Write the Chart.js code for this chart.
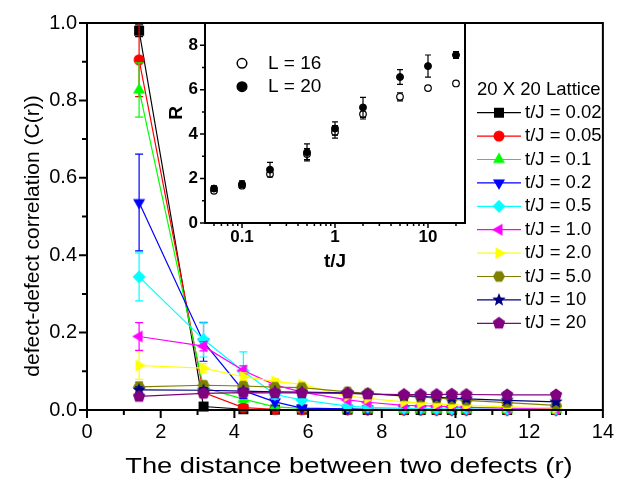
<!DOCTYPE html>
<html lang="en">
<head>
<meta charset="UTF-8">
<title>Defect-defect correlation</title>
<script src="https://cdn.jsdelivr.net/npm/chart.js"></script>
<style>
  body { margin: 0; background: #fff; }
  #wrap { position: relative; width: 624px; height: 481px; }
  #mainChart { position: absolute; left: 0; top: 0; }
  #insetChart { position: absolute; left: 150px; top: 0; }
</style>
</head>
<body>
<div id="wrap">
  <canvas id="mainChart" width="624" height="481"></canvas>
  <canvas id="insetChart" width="330" height="290"></canvas>
</div>
<script>
Chart.defaults.font.family = "'Liberation Sans', Arial, sans-serif";
Chart.defaults.color = '#000';

// lattice distances between two defects
const distance = [1.414, 3.162, 4.243, 5.099, 5.831, 7.071, 7.616, 8.602, 9.055, 9.487, 9.899, 10.296, 11.402, 12.728];

// C(r) for each t/J, with error bars
const corr002 = [0.980, 0.009, 0.002, 0.001, 0.001, 0.001, 0.000, 0.000, 0.000, 0.000, 0.000, 0.000, 0.000, 0.000];
const corr005 = [0.905, 0.045, 0.006, 0.002, 0.001, 0.001, 0.001, 0.000, 0.000, 0.000, 0.000, 0.000, 0.000, 0.000];
const corr01  = [0.827, 0.058, 0.028, 0.008, 0.004, 0.002, 0.002, 0.001, 0.001, 0.001, 0.001, 0.001, 0.001, 0.001];
const corr02  = [0.536, 0.176, 0.050, 0.021, 0.005, 0.003, 0.002, 0.002, 0.002, 0.001, 0.001, 0.001, 0.001, 0.001];
const corr05  = [0.344, 0.182, 0.100, 0.040, 0.026, 0.010, 0.007, 0.004, 0.004, 0.003, 0.003, 0.003, 0.002, 0.002];
const corr10  = [0.190, 0.165, 0.102, 0.065, 0.046, 0.026, 0.020, 0.012, 0.011, 0.010, 0.008, 0.007, 0.005, 0.004];
const corr20  = [0.115, 0.108, 0.086, 0.074, 0.066, 0.036, 0.030, 0.021, 0.018, 0.016, 0.013, 0.012, 0.008, 0.005];
const corr50  = [0.060, 0.064, 0.062, 0.059, 0.058, 0.047, 0.043, 0.036, 0.033, 0.031, 0.028, 0.025, 0.019, 0.012];
const corr100 = [0.052, 0.051, 0.049, 0.047, 0.046, 0.044, 0.042, 0.037, 0.035, 0.033, 0.031, 0.029, 0.025, 0.021];
const corr200 = [0.035, 0.043, 0.045, 0.044, 0.044, 0.043, 0.041, 0.040, 0.040, 0.040, 0.041, 0.040, 0.039, 0.039];

const err002 = [0.015, 0.006, 0.002, 0.001, 0.001, 0.001, 0.001, 0.001, 0.001, 0.001, 0.001, 0.001, 0.001, 0.001];
const err005 = [0.095, 0.012, 0.004, 0.002, 0.001, 0.001, 0.001, 0.001, 0.001, 0.001, 0.001, 0.001, 0.001, 0.001];
const err01  = [0.070, 0.012, 0.008, 0.004, 0.002, 0.001, 0.001, 0.001, 0.001, 0.001, 0.001, 0.001, 0.001, 0.001];
const err02  = [0.125, 0.050, 0.020, 0.010, 0.004, 0.002, 0.002, 0.002, 0.002, 0.002, 0.002, 0.002, 0.002, 0.002];
const err05  = [0.062, 0.045, 0.050, 0.012, 0.008, 0.005, 0.004, 0.003, 0.003, 0.003, 0.003, 0.003, 0.003, 0.003];
const err10  = [0.036, 0.012, 0.012, 0.008, 0.006, 0.005, 0.004, 0.003, 0.003, 0.003, 0.003, 0.003, 0.003, 0.003];
const err20  = [0.036, 0.012, 0.010, 0.008, 0.006, 0.005, 0.004, 0.004, 0.004, 0.004, 0.004, 0.004, 0.004, 0.004];
const err50  = [0.012, 0.010, 0.008, 0.007, 0.007, 0.006, 0.006, 0.005, 0.005, 0.005, 0.005, 0.005, 0.005, 0.005];
const err100 = [0.008, 0.007, 0.007, 0.006, 0.006, 0.006, 0.006, 0.006, 0.006, 0.006, 0.006, 0.006, 0.006, 0.006];
const err200 = [0.007, 0.007, 0.007, 0.007, 0.007, 0.007, 0.007, 0.007, 0.007, 0.007, 0.007, 0.007, 0.007, 0.007];

const seriesLabels = ['t/J = 0.02', 't/J = 0.05', 't/J = 0.1', 't/J = 0.2', 't/J = 0.5',
                      't/J = 1.0', 't/J = 2.0', 't/J = 5.0', 't/J = 10', 't/J = 20'];
const seriesValues = [corr002, corr005, corr01, corr02, corr05, corr10, corr20, corr50, corr100, corr200];
const seriesErrors = [err002, err005, err01, err02, err05, err10, err20, err50, err100, err200];

const xTicks = [0, 2, 4, 6, 8, 10, 12, 14];
const yTicks = [0, 0.2, 0.4, 0.6, 0.8, 1.0];

// inset: correlation length R against t/J
const tOverJ = [0.05, 0.1, 0.2, 0.5, 1, 2, 5, 10, 20];
const radiusL16 = [1.45, 1.68, 2.20, 3.10, 4.10, 4.90, 5.68, 6.07, 6.28];
const errL16    = [0.08, 0.10, 0.10, 0.25, 0.28, 0.22, 0.18, 0.10, 0.08];
const radiusL20 = [1.55, 1.75, 2.40, 3.18, 4.25, 5.20, 6.57, 7.06, 7.56];
const errL20    = [0.12, 0.15, 0.33, 0.38, 0.30, 0.45, 0.33, 0.50, 0.15];

const insetXTicks = [0.1, 1, 10];
const insetYTicks = [0, 2, 4, 6, 8];

const colors = ['#000000', '#ff0000', '#00ff00', '#0000ff', '#00ffff',
                '#ff00ff', '#ffff00', '#808000', '#000080', '#800080'];
const shapes = ['square', 'circle', 'up', 'down', 'diamond', 'left', 'right', 'hexagon', 'star', 'pentagon'];

// filled marker drawn once into a small canvas, used as pointStyle
function makeMarker(shape, color) {
  const c = document.createElement('canvas');
  c.width = 16; c.height = 16;
  const g = c.getContext('2d');
  const m = 8;
  g.fillStyle = color;
  g.beginPath();
  const poly = (n, r, start) => {
    for (let k = 0; k < n; k++) {
      const a = (start + k * 360 / n) * Math.PI / 180;
      const px = m + r * Math.cos(a), py = m + r * Math.sin(a);
      if (k) g.lineTo(px, py); else g.moveTo(px, py);
    }
    g.closePath();
  };
  if (shape === 'square') g.rect(m - 5, m - 5, 10, 10);
  else if (shape === 'circle') g.arc(m, m, 5.5, 0, Math.PI * 2);
  else if (shape === 'up') poly(3, 7, -90);
  else if (shape === 'down') poly(3, 7, 90);
  else if (shape === 'left') poly(3, 7, 180);
  else if (shape === 'right') poly(3, 7, 0);
  else if (shape === 'diamond') poly(4, 6.5, 0);
  else if (shape === 'hexagon') poly(6, 6, 0);
  else if (shape === 'pentagon') poly(5, 6.5, -90);
  else if (shape === 'star') {
    for (let k = 0; k < 10; k++) {
      const r = k % 2 ? 3 : 7;
      const a = (-90 + k * 36) * Math.PI / 180;
      const px = m + r * Math.cos(a), py = m + r * Math.sin(a);
      if (k) g.lineTo(px, py); else g.moveTo(px, py);
    }
    g.closePath();
  }
  g.fill();
  return c;
}

// vertical error bars, drawn just before each dataset so the markers sit on top
const errorBars = {
  id: 'errorBars',
  beforeDatasetDraw(chart, args) {
    const ds = chart.data.datasets[args.index];
    if (!ds.errors) return;
    const { ctx, chartArea: a, scales: { x, y } } = chart;
    const cap = ds.errorCap || 4;
    ctx.save();
    ctx.beginPath();
    ctx.rect(a.left, a.top - 2, a.right - a.left, a.bottom - a.top + 2);
    ctx.clip();
    ctx.strokeStyle = ds.borderColor;
    ctx.lineWidth = 1.2;
    ctx.beginPath();
    ds.data.forEach((p, i) => {
      const e = ds.errors[i];
      const px = x.getPixelForValue(p.x);
      const top = y.getPixelForValue(p.y + e);
      const bot = y.getPixelForValue(p.y - e);
      ctx.moveTo(px, top); ctx.lineTo(px, bot);
      ctx.moveTo(px - cap, top); ctx.lineTo(px + cap, top);
      ctx.moveTo(px - cap, bot); ctx.lineTo(px + cap, bot);
    });
    ctx.stroke();
    ctx.restore();
  }
};

// box around the plot plus outward major/minor tick marks
function frameTicks(o) {
  return {
    id: 'frameTicks',
    afterDraw(chart) {
      const { ctx, chartArea: a, scales: { x, y } } = chart;
      ctx.save();
      ctx.strokeStyle = '#000';
      ctx.lineWidth = o.frame;
      ctx.strokeRect(a.left, a.top, a.right - a.left, a.bottom - a.top);
      ctx.lineWidth = o.tickWidth;
      ctx.beginPath();
      x.ticks.forEach(t => {
        const px = x.getPixelForValue(t.value);
        ctx.moveTo(px, a.bottom); ctx.lineTo(px, a.bottom + o.major);
      });
      o.xMinor.forEach(v => {
        const px = x.getPixelForValue(v);
        ctx.moveTo(px, a.bottom); ctx.lineTo(px, a.bottom + o.minor);
      });
      y.ticks.forEach(t => {
        const py = y.getPixelForValue(t.value);
        ctx.moveTo(a.left, py); ctx.lineTo(a.left - o.major, py);
      });
      o.yMinor.forEach(v => {
        const py = y.getPixelForValue(v);
        ctx.moveTo(a.left, py); ctx.lineTo(a.left - o.minor, py);
      });
      ctx.stroke();
      ctx.restore();
    }
  };
}

// axis titles: the y title sits a little below the axis middle,
// the x title is set wide
const axisTitles = {
  id: 'axisTitles',
  afterDraw(chart) {
    const ctx = chart.ctx;
    const a = chart.chartArea;
    ctx.save();
    ctx.fillStyle = '#000';
    ctx.textAlign = 'center';
    ctx.textBaseline = 'middle';
    ctx.font = "21px 'Liberation Sans', Arial, sans-serif";
    ctx.save();
    ctx.translate(33, 236);
    ctx.rotate(-Math.PI / 2);
    ctx.fillText('defect-defect correlation (C(r))', 0, 0);
    ctx.restore();
    ctx.font = "22px 'Liberation Sans', Arial, sans-serif";
    ctx.translate((a.left + a.right) / 2 + 4, 467);
    ctx.scale(1.24, 1);
    ctx.fillText('The distance between two defects (r)', 0, 0);
    ctx.restore();
  }
};

const latticeLegend = {
  id: 'latticeLegend',
  afterDraw(chart) {
    const ctx = chart.ctx;
    ctx.save();
    ctx.font = "18.5px 'Liberation Sans', Arial, sans-serif";
    ctx.fillStyle = '#000';
    ctx.textBaseline = 'middle';
    ctx.fillText('20 X 20 Lattice', 477, 90);
    chart.data.datasets.forEach((ds, i) => {
      const y = 112.7 + 23.4 * i;
      ctx.strokeStyle = ds.borderColor;
      ctx.lineWidth = 1.2;
      ctx.beginPath(); ctx.moveTo(477, y); ctx.lineTo(521, y); ctx.stroke();
      ctx.drawImage(ds.pointStyle, 499 - 8, y - 8);
      ctx.fillText(ds.label, 525, y);
    });
    ctx.restore();
  }
};

// inset legend and its "R" axis title, placed slightly above the axis middle
const insetLegend = {
  id: 'insetLegend',
  afterDraw(chart) {
    const ctx = chart.ctx;
    ctx.save();
    ctx.font = "19px 'Liberation Sans', Arial, sans-serif";
    ctx.textBaseline = 'middle';
    chart.data.datasets.forEach((ds, i) => {
      const y = 63.3 + 23.4 * i;
      ctx.beginPath();
      ctx.arc(92, y, 4.8, 0, Math.PI * 2);
      ctx.fillStyle = ds.backgroundColor;
      ctx.fill();
      ctx.lineWidth = 1.5;
      ctx.strokeStyle = '#000';
      ctx.stroke();
      ctx.fillStyle = '#000';
      ctx.fillText(ds.label, 118, y);
    });
    ctx.font = "bold 19px 'Liberation Sans', Arial, sans-serif";
    ctx.textAlign = 'center';
    ctx.translate(27, 113);
    ctx.rotate(-Math.PI / 2);
    ctx.fillText('R', 0, 0);
    ctx.restore();
  }
};

const mainDatasets = seriesValues.map((vals, i) => ({
  label: seriesLabels[i],
  data: distance.map((d, k) => ({ x: d, y: vals[k] })),
  errors: seriesErrors[i],
  errorCap: 4,
  showLine: true,
  borderColor: colors[i],
  backgroundColor: colors[i],
  borderWidth: 1.2,
  pointStyle: makeMarker(shapes[i], colors[i]),
  pointRadius: 5,
  clip: false,
  order: seriesValues.length - 1 - i
}));

new Chart(document.getElementById('mainChart'), {
  type: 'scatter',
  data: { datasets: mainDatasets },
  options: {
    responsive: false,
    animation: false,
    layout: { padding: { top: 23, right: 13, left: 0, bottom: 0 } },
    plugins: { legend: { display: false }, tooltip: { enabled: false } },
    scales: {
      x: {
        type: 'linear', min: 0, max: 14,
        afterBuildTicks: s => { s.ticks = xTicks.map(v => ({ value: v })); },
        afterFit: s => { s.height = 71; },
        grid: { display: false, drawTicks: false },
        border: { display: false },
        ticks: { padding: 10, font: { size: 20 }, maxRotation: 0, callback: v => String(v) }
      },
      y: {
        min: 0, max: 1,
        afterBuildTicks: s => { s.ticks = yTicks.map(v => ({ value: v })); },
        afterFit: s => { s.width = 87; },
        grid: { display: false, drawTicks: false },
        border: { display: false },
        ticks: { padding: 10, font: { size: 20 }, callback: v => v.toFixed(1) }
      }
    }
  },
  plugins: [errorBars, frameTicks({ frame: 2, tickWidth: 2, major: 8, minor: 5,
    xMinor: [1, 3, 5, 7, 9, 11, 13], yMinor: [0.1, 0.3, 0.5, 0.7, 0.9] }), axisTitles, latticeLegend]
});

const logMinor = [0.05, 0.06, 0.07, 0.08, 0.09, 0.2, 0.3, 0.4, 0.5, 0.6, 0.7, 0.8, 0.9,
                  2, 3, 4, 5, 6, 7, 8, 9, 20];

new Chart(document.getElementById('insetChart'), {
  type: 'scatter',
  data: {
    datasets: [
      {
        label: 'L = 16',
        data: tOverJ.map((t, k) => ({ x: t, y: radiusL16[k] })),
        errors: errL16, errorCap: 3,
        pointStyle: 'circle', pointRadius: 3.3,
        backgroundColor: '#ffffff', borderColor: '#000000', borderWidth: 1.2,
        clip: false, order: 1
      },
      {
        label: 'L = 20',
        data: tOverJ.map((t, k) => ({ x: t, y: radiusL20[k] })),
        errors: errL20, errorCap: 3,
        pointStyle: 'circle', pointRadius: 3.5,
        backgroundColor: '#000000', borderColor: '#000000', borderWidth: 1,
        clip: false, order: 0
      }
    ]
  },
  options: {
    responsive: false,
    animation: false,
    layout: { padding: { top: 23, right: 15, left: 0, bottom: 0 } },
    plugins: { legend: { display: false }, tooltip: { enabled: false } },
    scales: {
      x: {
        type: 'logarithmic', min: 0.04, max: 25,
        afterBuildTicks: s => { s.ticks = insetXTicks.map(v => ({ value: v })); },
        afterFit: s => { s.height = 67; },
        grid: { display: false, drawTicks: false },
        border: { display: false },
        ticks: { padding: 4, font: { size: 17, weight: 'bold' }, maxRotation: 0, autoSkip: false, callback: v => String(v) },
        title: { display: true, text: 't/J', font: { size: 19, weight: 'bold' }, padding: { bottom: 17 } }
      },
      y: {
        min: 0, max: 9,
        afterBuildTicks: s => { s.ticks = insetYTicks.map(v => ({ value: v })); },
        afterFit: s => { s.width = 55; },
        grid: { display: false, drawTicks: false },
        border: { display: false },
        ticks: { padding: 7, font: { size: 17, weight: 'bold' }, callback: v => String(v) }
      }
    }
  },
  plugins: [errorBars, frameTicks({ frame: 2, tickWidth: 1.5, major: 5, minor: 3,
    xMinor: logMinor, yMinor: [1, 3, 5, 7] }), insetLegend]
});
</script>
</body>
</html>
